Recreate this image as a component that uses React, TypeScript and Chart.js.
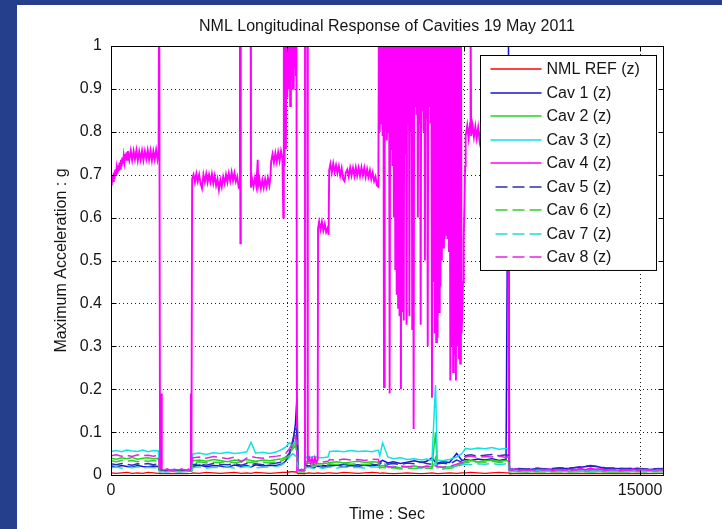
import React, { useEffect, useRef } from "react";
import { Chart, registerables } from "chart.js";

Chart.register(...registerables);

// ---------- data ----------
const X_MAX = 15650;
const xTickValues = [0, 5000, 10000, 15000];
const yTickValues = [0, 0.1, 0.2, 0.3, 0.4, 0.5, 0.6, 0.7, 0.8, 0.9, 1];

const chartTitle = "NML Longitudinal Response of Cavities 19 May 2011";
const xTitle = "Time : Sec";
const yTitle = "Maximum Acceleration : g";

const seriesNames = [
  "NML REF (z)",
  "Cav 1 (z)",
  "Cav 2 (z)",
  "Cav 3 (z)",
  "Cav 4 (z)",
  "Cav 5 (z)",
  "Cav 6 (z)",
  "Cav 7 (z)",
  "Cav 8 (z)",
];

// shared time grid (s) for the low-level series
const baseTimes = [
  0, 150, 300, 450, 600, 750, 900, 1050, 1200, 1340,
  1380, 1550, 1750, 1950, 2150, 2280,
  2320, 2500, 2700, 2900, 3100, 3300, 3500, 3700, 3850, 3970, 4100, 4300, 4500, 4700, 4850,
  4950, 5050, 5150, 5230, 5270,
  5310, 5400, 5480,
  5520, 5600, 5750, 5870, 6000, 6150,
  6200, 6400, 6600, 6800, 7000, 7200, 7400, 7580,
  7620, 7700, 7850, 8000, 8200, 8400, 8600, 8800, 8950, 9100, 9200, 9250, 9400, 9600, 9800, 9950,
  10050, 10200, 10400, 10600, 10800, 11000, 11200, 11270,
  11300, 11500, 11800, 12100, 12400, 12700, 13000, 13300, 13600, 13800, 14000, 14300, 14600, 14900, 15200, 15650,
];

const nmlRef = [
  0.005, 0.004, 0.005, 0.006, 0.004, 0.005, 0.004, 0.006, 0.005, 0.004,
  0.003, 0.004, 0.003, 0.004, 0.003, 0.004,
  0.005, 0.004, 0.006, 0.005, 0.004, 0.005, 0.006, 0.004, 0.005, 0.004, 0.006, 0.005, 0.004, 0.005, 0.006,
  0.006, 0.007, 0.008, 0.007, 0.006,
  0.003, 0.004, 0.003,
  0.004, 0.005, 0.004, 0.005, 0.004, 0.005,
  0.005, 0.004, 0.006, 0.005, 0.004, 0.005, 0.006, 0.005,
  0.004, 0.005, 0.004, 0.003, 0.004, 0.005, 0.004, 0.003, 0.004, 0.005, 0.004, 0.003, 0.004, 0.005, 0.004, 0.005,
  0.005, 0.006, 0.005, 0.004, 0.005, 0.006, 0.005, 0.005,
  0.003, 0.004, 0.003, 0.004, 0.003, 0.004, 0.003, 0.004, 0.003, 0.004, 0.003, 0.004, 0.003, 0.004, 0.003, 0.004,
];

const cav1 = [
  0.021, 0.019, 0.022, 0.02, 0.018, 0.022, 0.02, 0.019, 0.021, 0.02,
  0.008, 0.01, 0.009, 0.008, 0.01, 0.009,
  0.02, 0.023, 0.019, 0.022, 0.021, 0.018, 0.023, 0.02, 0.022, 0.019, 0.024, 0.021, 0.023, 0.022, 0.026,
  0.032, 0.045, 0.07, 0.12, 0.18,
  0.011, 0.009, 0.01,
  0.024, 0.021, 0.023, 0.02, 0.022, 0.021,
  0.021, 0.023, 0.019, 0.022, 0.02, 0.023, 0.021, 0.024,
  0.03, 0.034, 0.028, 0.031, 0.027, 0.03, 0.033, 0.029, 0.032, 0.04, 0.03, 0.028, 0.031, 0.029, 0.05, 0.034,
  0.036, 0.034, 0.037, 0.035, 0.038, 0.034, 0.037, 1.0,
  0.012, 0.014, 0.012, 0.015, 0.013, 0.015, 0.016, 0.018, 0.021, 0.019, 0.016, 0.015, 0.014, 0.015, 0.013, 0.014,
];

const cav2 = [
  0.039, 0.037, 0.04, 0.038, 0.041, 0.037, 0.039, 0.04, 0.038, 0.039,
  0.009, 0.011, 0.01, 0.009, 0.011, 0.01,
  0.033, 0.035, 0.032, 0.036, 0.034, 0.031, 0.035, 0.033, 0.036, 0.034, 0.032, 0.035, 0.033, 0.036, 0.038,
  0.042, 0.05, 0.065, 0.08, 0.055,
  0.008, 0.009, 0.008,
  0.026, 0.028, 0.025, 0.027, 0.026, 0.028,
  0.029, 0.031, 0.028, 0.03, 0.032, 0.029, 0.031, 0.03,
  0.02, 0.022, 0.018, 0.02, 0.017, 0.019, 0.021, 0.018, 0.02, 0.019, 0.1, 0.02, 0.018, 0.019, 0.021, 0.028,
  0.032, 0.034, 0.031, 0.033, 0.035, 0.032, 0.034, 0.033,
  0.008, 0.009, 0.007, 0.009, 0.008, 0.009, 0.008, 0.009, 0.008, 0.009, 0.008, 0.007, 0.009, 0.008, 0.009, 0.008,
];

const cav3 = [
  0.055, 0.057, 0.054, 0.058, 0.056, 0.055, 0.058, 0.054, 0.057, 0.056,
  0.012, 0.011, 0.013, 0.012, 0.011, 0.012,
  0.049, 0.051, 0.048, 0.052, 0.05, 0.053, 0.05, 0.052, 0.054, 0.076, 0.051, 0.053, 0.05, 0.054, 0.06,
  0.065, 0.075, 0.07, 0.08, 0.06,
  0.012, 0.01, 0.011,
  0.042, 0.04, 0.043, 0.041, 0.04, 0.042,
  0.055, 0.056, 0.054, 0.057, 0.055, 0.056, 0.054, 0.058,
  0.045, 0.075, 0.042, 0.038, 0.04, 0.036, 0.038, 0.035, 0.037, 0.034, 0.21, 0.035, 0.033, 0.036, 0.042, 0.05,
  0.062, 0.06, 0.063, 0.061, 0.064, 0.06, 0.062, 0.06,
  0.01, 0.011, 0.009, 0.011, 0.01, 0.011, 0.009, 0.011, 0.01, 0.011, 0.009, 0.01, 0.011, 0.01, 0.011, 0.01,
];

// Cav 4 has its own, denser time base: [time s, value g]
const cav4Points: [number, number][] = [
  // start-up rise and first plateau (~0.745)
  [0, 0.69], [20, 0.675], [40, 0.7], [60, 0.685], [80, 0.705], [100, 0.69], [120, 0.712], [140, 0.698],
  [160, 0.716], [180, 0.702], [200, 0.722], [220, 0.708], [240, 0.728], [260, 0.714], [280, 0.735],
  [300, 0.72], [320, 0.74], [340, 0.726], [360, 0.744], [380, 0.73], [400, 0.748], [420, 0.733],
  [440, 0.752], [460, 0.735], [480, 0.755], [520, 0.735], [560, 0.756], [600, 0.734], [640, 0.755],
  [680, 0.736], [720, 0.757], [760, 0.733], [800, 0.754], [840, 0.735], [880, 0.756], [920, 0.734],
  [960, 0.755], [1000, 0.737], [1040, 0.757], [1080, 0.735], [1120, 0.756], [1160, 0.733], [1200, 0.755],
  [1240, 0.736], [1280, 0.758], [1320, 0.736], [1350, 0.755],
  // spike, then quiet
  [1365, 1.25], [1390, 0.012], [1420, 0.19], [1440, 0.012], [1500, 0.01], [1600, 0.014], [1700, 0.009],
  [1800, 0.013], [1900, 0.01], [2000, 0.014], [2100, 0.009], [2200, 0.013], [2250, 0.011], [2265, 0.19],
  [2280, 0.015],
  // plateau ~0.69
  [2300, 0.69], [2340, 0.7], [2380, 0.682], [2420, 0.702], [2460, 0.684], [2500, 0.7], [2540, 0.68],
  [2580, 0.668], [2620, 0.7], [2660, 0.683], [2700, 0.702], [2740, 0.682], [2780, 0.7], [2820, 0.683],
  [2860, 0.702], [2900, 0.68], [2940, 0.698], [2980, 0.675], [3020, 0.69], [3060, 0.665], [3100, 0.688],
  [3140, 0.672], [3180, 0.695], [3220, 0.68], [3260, 0.7], [3300, 0.683], [3340, 0.703], [3380, 0.685],
  [3420, 0.706], [3460, 0.686], [3500, 0.704], [3540, 0.684], [3580, 0.695], [3620, 0.67], [3645, 0.668],
  [3655, 1.25], [3668, 0.54], [3680, 1.25], [3955, 1.25], [3968, 0.67],
  // plateau ~0.68 then ~0.74
  [4000, 0.69], [4040, 0.672], [4080, 0.692], [4120, 0.674], [4160, 0.735], [4175, 0.675], [4210, 0.69],
  [4250, 0.668], [4290, 0.688], [4330, 0.67], [4370, 0.69], [4410, 0.672], [4450, 0.692], [4490, 0.675],
  [4520, 0.695], [4540, 0.73], [4580, 0.748], [4620, 0.728], [4660, 0.75], [4700, 0.73], [4740, 0.752],
  [4780, 0.732], [4820, 0.755], [4860, 0.738],
  // burst near 5000 s
  [4885, 0.6], [4900, 1.2], [4920, 0.72], [4940, 1.2], [4960, 0.76], [4980, 1.2], [5000, 0.88], [5020, 1.2],
  [5040, 0.9], [5060, 1.2], [5080, 0.86], [5100, 1.2], [5120, 0.92], [5140, 1.2], [5160, 0.9], [5180, 1.2],
  [5200, 0.95], [5220, 1.2], [5240, 0.93], [5255, 1.2],
  [5275, 0.01], [5300, 0.013], [5350, 0.009], [5400, 0.013], [5450, 0.01], [5485, 0.012],
  [5500, 1.25], [5560, 1.25],
  [5580, 0.033], [5620, 0.04], [5660, 0.028], [5700, 0.038], [5740, 0.027], [5780, 0.04], [5820, 0.029],
  [5860, 0.036],
  // plateau ~0.58
  [5870, 0.575], [5900, 0.59], [5940, 0.572], [5980, 0.59], [6020, 0.57], [6060, 0.585], [6100, 0.566],
  [6140, 0.575], [6170, 0.56],
  // plateau ~0.71
  [6185, 0.71], [6220, 0.725], [6260, 0.705], [6300, 0.726], [6340, 0.706], [6380, 0.722], [6420, 0.704],
  [6460, 0.72], [6500, 0.698], [6540, 0.715], [6580, 0.69], [6620, 0.685], [6660, 0.705], [6700, 0.712],
  [6740, 0.696], [6780, 0.716], [6820, 0.698], [6860, 0.716], [6900, 0.697], [6940, 0.717], [6980, 0.698],
  [7020, 0.716], [7060, 0.697], [7100, 0.717], [7140, 0.699], [7180, 0.716], [7220, 0.695], [7260, 0.713],
  [7300, 0.695], [7340, 0.71], [7380, 0.69], [7420, 0.705], [7460, 0.685], [7500, 0.695], [7540, 0.675],
  [7580, 0.672],
  // unstable period
  [7600, 1.2], [7620, 0.8], [7640, 1.2], [7660, 0.82], [7680, 1.2], [7700, 0.79], [7720, 1.2], [7740, 0.205],
  [7760, 1.2], [7780, 0.8], [7800, 1.2], [7820, 0.78], [7840, 1.2], [7860, 0.8], [7880, 1.2], [7900, 0.19],
  [7920, 1.2], [7940, 0.76], [7960, 1.2], [7980, 0.72], [8000, 1.2], [8020, 0.6], [8040, 1.2], [8060, 0.48],
  [8080, 1.2], [8100, 0.42], [8120, 1.2], [8140, 0.39], [8160, 1.2], [8180, 0.37], [8200, 1.2], [8220, 0.2],
  [8240, 1.2], [8260, 0.38], [8280, 1.2], [8300, 0.36], [8320, 1.2], [8340, 0.75], [8360, 1.2], [8380, 0.35],
  [8400, 1.2], [8420, 0.82], [8440, 1.2], [8460, 0.37], [8480, 1.2], [8500, 0.8], [8520, 1.2], [8540, 0.34],
  [8560, 1.2], [8580, 0.107], [8600, 1.2], [8620, 0.86], [8640, 1.2], [8660, 0.84], [8680, 1.2], [8700, 0.6],
  [8720, 1.2], [8740, 0.82], [8760, 1.2], [8780, 0.35], [8800, 1.2], [8820, 0.85], [8840, 1.2], [8860, 0.8],
  [8880, 1.2], [8900, 0.5], [8920, 1.2], [8940, 0.83], [8960, 1.2], [8980, 0.3], [9000, 1.2], [9020, 0.86],
  [9040, 1.2], [9060, 0.82], [9080, 1.2], [9100, 0.18], [9120, 1.2], [9140, 0.45], [9160, 1.2], [9180, 0.33],
  [9200, 1.2], [9220, 0.31], [9240, 1.2], [9260, 0.32], [9280, 1.2], [9300, 0.38], [9320, 1.2], [9340, 0.44],
  [9360, 1.2], [9380, 0.5], [9400, 1.2], [9420, 0.53], [9440, 1.2], [9460, 0.55], [9480, 1.2], [9500, 0.56],
  [9520, 1.2], [9540, 0.55], [9560, 1.2], [9580, 0.52], [9600, 1.2], [9620, 0.22], [9640, 1.2], [9660, 0.3],
  [9680, 1.2], [9700, 0.24], [9720, 1.2], [9740, 0.28], [9760, 1.2], [9780, 0.22], [9800, 1.2], [9820, 0.3],
  [9840, 1.2], [9860, 0.27], [9880, 1.2], [9900, 0.26], [9920, 1.2], [9940, 0.33],
  [9960, 0.38], [9980, 0.45], [10000, 0.55], [10020, 0.63], [10040, 0.72], [10055, 0.79],
  // plateau ~0.8 (mostly behind the legend)
  [10100, 0.815], [10140, 0.785], [10180, 0.82], [10195, 1.1], [10210, 0.79], [10250, 0.815], [10290, 0.788],
  [10330, 0.812], [10370, 0.785], [10410, 0.81], [10450, 0.78], [10490, 0.805], [10600, 0.8], [10800, 0.79],
  [11000, 0.8], [11200, 0.79], [11260, 0.8],
  // quiet tail
  [11280, 0.012], [11350, 0.01], [11500, 0.014], [11650, 0.009], [11800, 0.013], [11950, 0.01], [12100, 0.015],
  [12250, 0.011], [12400, 0.014], [12550, 0.009], [12700, 0.013], [12850, 0.01], [13000, 0.014], [13150, 0.011],
  [13300, 0.015], [13450, 0.012], [13600, 0.016], [13750, 0.012], [13900, 0.014], [14050, 0.01], [14200, 0.013],
  [14350, 0.009], [14500, 0.013], [14650, 0.01], [14800, 0.014], [14950, 0.011], [15100, 0.013], [15250, 0.01],
  [15400, 0.013], [15650, 0.011],
];

const cav5 = [
  0.026, 0.024, 0.027, 0.025, 0.023, 0.026, 0.025, 0.027, 0.024, 0.026,
  0.011, 0.009, 0.011, 0.01, 0.009, 0.011,
  0.024, 0.026, 0.023, 0.027, 0.025, 0.024, 0.026, 0.023, 0.027, 0.025, 0.026, 0.024, 0.027, 0.028, 0.03,
  0.036, 0.05, 0.08, 0.11, 0.1,
  0.01, 0.011, 0.01,
  0.018, 0.02, 0.017, 0.019, 0.018, 0.02,
  0.024, 0.022, 0.025, 0.023, 0.024, 0.022, 0.025, 0.023,
  0.026, 0.03, 0.025, 0.027, 0.024, 0.028, 0.026, 0.03, 0.027, 0.025, 0.029, 0.026, 0.028, 0.025, 0.035, 0.03,
  0.045, 0.047, 0.044, 0.046, 0.048, 0.045, 0.047, 0.046,
  0.013, 0.015, 0.014, 0.016, 0.014, 0.017, 0.016, 0.019, 0.022, 0.02, 0.017, 0.016, 0.015, 0.016, 0.014, 0.015,
];

const cav6 = [
  0.033, 0.031, 0.034, 0.032, 0.034, 0.031, 0.033, 0.032, 0.034, 0.032,
  0.008, 0.009, 0.008, 0.009, 0.008, 0.009,
  0.029, 0.031, 0.028, 0.03, 0.029, 0.032, 0.028, 0.031, 0.03, 0.029, 0.031, 0.03, 0.028, 0.031, 0.033,
  0.038, 0.045, 0.06, 0.07, 0.05,
  0.007, 0.008, 0.007,
  0.022, 0.024, 0.021, 0.023, 0.022, 0.024,
  0.026, 0.024, 0.027, 0.025, 0.026, 0.024, 0.027, 0.026,
  0.016, 0.018, 0.015, 0.017, 0.014, 0.016, 0.015, 0.017, 0.016, 0.015, 0.04, 0.016, 0.014, 0.016, 0.018, 0.025,
  0.03, 0.029, 0.031, 0.03, 0.032, 0.029, 0.031, 0.03,
  0.007, 0.008, 0.007, 0.008, 0.007, 0.008, 0.007, 0.008, 0.007, 0.008, 0.007, 0.008, 0.007, 0.008, 0.007, 0.008,
];

const cav7 = [
  0.017, 0.019, 0.016, 0.018, 0.017, 0.019, 0.016, 0.018, 0.017, 0.018,
  0.008, 0.007, 0.008, 0.007, 0.008, 0.007,
  0.017, 0.019, 0.016, 0.018, 0.017, 0.019, 0.016, 0.018, 0.02, 0.019, 0.017, 0.018, 0.019, 0.02, 0.024,
  0.03, 0.04, 0.05, 0.045, 0.035,
  0.008, 0.007, 0.008,
  0.016, 0.018, 0.015, 0.017, 0.016, 0.018,
  0.018, 0.016, 0.019, 0.017, 0.018, 0.016, 0.019, 0.018,
  0.022, 0.03, 0.02, 0.019, 0.017, 0.02, 0.018, 0.016, 0.019, 0.018, 0.03, 0.017, 0.016, 0.018, 0.02, 0.024,
  0.025, 0.024, 0.026, 0.025, 0.027, 0.024, 0.026, 0.025,
  0.008, 0.009, 0.008, 0.009, 0.008, 0.009, 0.008, 0.009, 0.008, 0.009, 0.008, 0.009, 0.008, 0.009, 0.008, 0.009,
];

const cav8 = [
  0.045, 0.047, 0.044, 0.046, 0.043, 0.047, 0.045, 0.046, 0.044, 0.046,
  0.012, 0.013, 0.011, 0.013, 0.012, 0.013,
  0.04, 0.042, 0.039, 0.043, 0.041, 0.038, 0.042, 0.03, 0.04, 0.043, 0.041, 0.039, 0.042, 0.044, 0.046,
  0.05, 0.06, 0.075, 0.09, 0.07,
  0.012, 0.011, 0.012,
  0.03, 0.032, 0.029, 0.031, 0.03, 0.032,
  0.036, 0.034, 0.037, 0.035, 0.036, 0.034, 0.037, 0.036,
  0.022, 0.025, 0.02, 0.018, 0.021, 0.019, 0.02, 0.018, 0.021, 0.019, 0.022, 0.02, 0.018, 0.02, 0.025, 0.03,
  0.042, 0.044, 0.041, 0.043, 0.042, 0.044, 0.041, 0.043,
  0.012, 0.013, 0.011, 0.013, 0.012, 0.013, 0.011, 0.013, 0.012, 0.014, 0.012, 0.013, 0.011, 0.013, 0.012, 0.013,
];

const seriesColors = [
  "#ff0000", "#1414d0", "#22d422", "#12e2e2", "#ff00ff",
  "#2e2eb8", "#33cc33", "#26d8d8", "#e028e0",
];
const seriesDashed = [false, false, false, false, false, true, true, true, true];

// ---------- helpers ----------
const FONT = "'Liberation Sans', Arial, Helvetica, sans-serif";
const TEXT_COLOR = "#151515";

const toXY = (vals: number[]) => baseTimes.map((t, i) => ({ x: t, y: vals[i] }));

const matlabAxesPlugin = {
  id: "matlabAxes",
  beforeDatasetsDraw(chart: any) {
    const { ctx, chartArea: a, scales } = chart;
    const xs = scales.x;
    const ys = scales.y;
    ctx.save();
    ctx.strokeStyle = "#202020";
    ctx.lineWidth = 1;
    ctx.setLineDash([1, 3]);
    for (const v of xTickValues) {
      const px = Math.round(xs.getPixelForValue(v)) + 0.5;
      if (px <= a.left + 1 || px >= a.right - 1) continue;
      ctx.beginPath();
      ctx.moveTo(px, a.top);
      ctx.lineTo(px, a.bottom);
      ctx.stroke();
    }
    for (const v of yTickValues) {
      const py = Math.round(ys.getPixelForValue(v)) + 0.5;
      if (py <= a.top + 1 || py >= a.bottom - 1) continue;
      ctx.beginPath();
      ctx.moveTo(a.left, py);
      ctx.lineTo(a.right, py);
      ctx.stroke();
    }
    ctx.restore();
  },
  afterDatasetsDraw(chart: any) {
    const { ctx, chartArea: a, scales } = chart;
    const xs = scales.x;
    const ys = scales.y;
    const L = Math.round(a.left) + 0.5;
    const R = Math.round(a.right) + 0.5;
    const T = Math.round(a.top) + 0.5;
    const B = Math.round(a.bottom) + 0.5;
    const tick = 5;
    ctx.save();
    ctx.setLineDash([]);
    ctx.strokeStyle = "#000";
    ctx.lineWidth = 1;
    ctx.strokeRect(L, T, R - L, B - T);
    ctx.beginPath();
    for (const v of xTickValues) {
      const px = Math.round(xs.getPixelForValue(v)) + 0.5;
      ctx.moveTo(px, B);
      ctx.lineTo(px, B - tick);
      ctx.moveTo(px, T);
      ctx.lineTo(px, T + tick);
    }
    for (const v of yTickValues) {
      const py = Math.round(ys.getPixelForValue(v)) + 0.5;
      ctx.moveTo(L, py);
      ctx.lineTo(L + tick, py);
      ctx.moveTo(R, py);
      ctx.lineTo(R - tick, py);
    }
    ctx.stroke();

    // title, centred over the axes
    ctx.fillStyle = TEXT_COLOR;
    ctx.font = `16px ${FONT}`;
    ctx.textAlign = "center";
    ctx.textBaseline = "middle";
    ctx.fillText(chartTitle, (a.left + a.right) / 2, a.top - 19);

    // legend box (inside the axes, top-right)
    const boxW = 176;
    const rowH = 23.55;
    const boxR = R - 7;
    const boxL = boxR - boxW;
    const boxT = T + 9;
    const boxH = rowH * seriesNames.length + 3;
    ctx.fillStyle = "#ffffff";
    ctx.fillRect(boxL, boxT, boxW, boxH);
    ctx.strokeStyle = "#000";
    ctx.lineWidth = 1;
    ctx.strokeRect(boxL, boxT, boxW, boxH);
    ctx.font = `16px ${FONT}`;
    ctx.textBaseline = "middle";
    ctx.textAlign = "left";
    seriesNames.forEach((name, i) => {
      const cy = Math.round(boxT + 13.5 + i * rowH);
      ctx.strokeStyle = seriesColors[i];
      ctx.lineWidth = 1.5;
      ctx.setLineDash(seriesDashed[i] ? [12, 5] : []);
      ctx.beginPath();
      ctx.moveTo(boxL + (seriesDashed[i] ? 15 : 10), cy);
      ctx.lineTo(boxL + 61, cy);
      ctx.stroke();
      ctx.setLineDash([]);
      ctx.fillStyle = TEXT_COLOR;
      ctx.fillText(name, boxL + 66, cy + 1);
    });
    ctx.restore();
  },
};

export default function App() {
  const canvasRef = useRef<HTMLCanvasElement | null>(null);

  useEffect(() => {
    const canvas = canvasRef.current;
    if (!canvas) return;
    const lowSeries = [nmlRef, cav1, cav2, cav3, null, cav5, cav6, cav7, cav8];
    const datasets = seriesNames.map((name, i) => {
      const data =
        i === 4
          ? cav4Points.map(([t, v]) => ({ x: t, y: v }))
          : toXY(lowSeries[i] as number[]);
      return {
        label: name,
        data,
        borderColor: seriesColors[i],
        backgroundColor: seriesColors[i],
        borderWidth: i === 0 ? 1.3 : i === 4 ? 1.9 : 1.5,
        borderDash: seriesDashed[i] ? [12, 5] : [],
        pointRadius: 0,
        tension: 0,
        fill: false,
        order: seriesNames.length - i,
      };
    });

    const chart = new Chart(canvas, {
      type: "line",
      data: { datasets },
      plugins: [matlabAxesPlugin],
      options: {
        animation: false,
        responsive: false,
        maintainAspectRatio: false,
        devicePixelRatio: 1,
        events: [],
        layout: { padding: { left: 17, top: 46, right: 59, bottom: 0 } },
        plugins: {
          legend: { display: false },
          tooltip: { enabled: false },
          title: { display: false },
        },
        scales: {
          x: {
            type: "linear",
            min: 0,
            max: X_MAX,
            grid: { display: false, drawTicks: false },
            border: { display: false },
            afterBuildTicks: (s: any) => {
              s.ticks = xTickValues.map((v) => ({ value: v }));
            },
            afterFit: (s: any) => {
              s.height = 54;
            },
            ticks: {
              color: TEXT_COLOR,
              font: { family: FONT, size: 16 },
              padding: 6,
              maxRotation: 0,
              autoSkip: false,
              callback: (v: any) => String(v),
            },
            title: {
              display: true,
              text: xTitle,
              color: TEXT_COLOR,
              font: { family: FONT, size: 16, lineHeight: 1.2 },
              padding: { top: 0, bottom: 4.4 },
            },
          },
          y: {
            type: "linear",
            min: 0,
            max: 1,
            grid: { display: false, drawTicks: false },
            border: { display: false },
            afterBuildTicks: (s: any) => {
              s.ticks = yTickValues.map((v) => ({ value: v }));
            },
            afterFit: (s: any) => {
              s.width = 94;
            },
            ticks: {
              color: TEXT_COLOR,
              font: { family: FONT, size: 16 },
              padding: 9,
              autoSkip: false,
              callback: (v: any) => String(v),
            },
            title: {
              display: true,
              text: yTitle,
              color: TEXT_COLOR,
              font: { family: FONT, size: 16, lineHeight: 1.2 },
              padding: { top: 35.4, bottom: 0 },
            },
          },
        },
      } as any,
    });
    return () => chart.destroy();
  }, []);

  return (
    <div
      style={{
        position: "fixed",
        left: 0,
        top: 0,
        width: 722,
        height: 529,
        background: "#253f8d",
        overflow: "hidden",
      }}
    >
      <div
        style={{
          position: "absolute",
          left: 17,
          top: 5,
          right: 0,
          bottom: 0,
          background: "#ffffff",
        }}
      />
      <canvas
        ref={canvasRef}
        width={722}
        height={529}
        style={{ position: "absolute", left: 0, top: 0, width: 722, height: 529 }}
      />
    </div>
  );
}
